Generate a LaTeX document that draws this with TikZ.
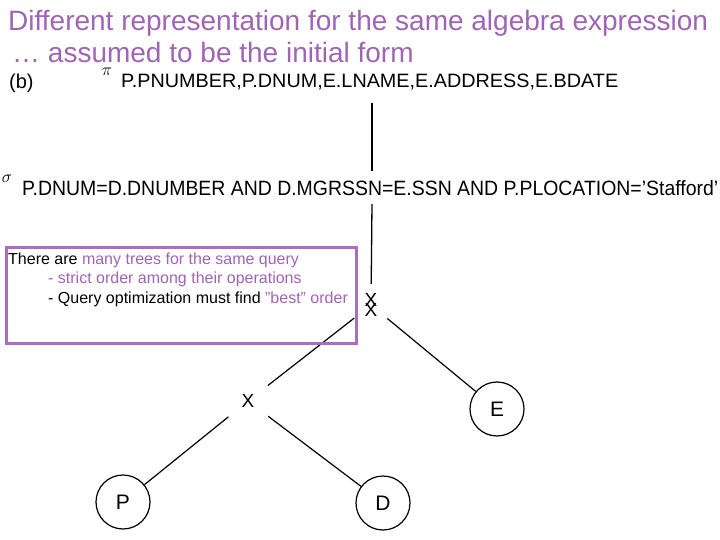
\documentclass[tikz,border=0pt]{standalone}
\usepackage{fontspec}
\setmainfont{Liberation Sans}
\usepackage{graphicx}
\definecolor{ttl}{RGB}{160,100,180}
\definecolor{boxc}{RGB}{170,110,190}
\tikzset{
  titletext/.style={anchor=base west, inner sep=0, text=ttl, font=\fontsize{28}{32}\selectfont},
  treetext/.style={anchor=base west, inner sep=0, font=\fontsize{18}{20}\selectfont},
  optext/.style={inner sep=0, font=\fontsize{18}{20}\selectfont},
  xnode/.style={circle, inner sep=0, font=\fontsize{19}{19}\selectfont},
  leaf/.style={circle, draw, line width=1.2pt, minimum size=54pt, inner sep=0, font=\fontsize{21}{21}\selectfont},
  edge/.style={line width=1.2pt},
  boxtext/.style={anchor=base west, inner sep=0, font=\fontsize{16}{18}\selectfont}
}
\begin{document}
\begin{tikzpicture}[x=1pt,y=-1pt]
\useasboundingbox (0,0) rectangle (720,540);
% title
\node[titletext] (t1) at (8,31) {Different representation for the same algebra expression};
\node[titletext] (t2) at (12,63) {\ldots\ assumed to be the initial form};
% (b) and projection
\node[treetext, font=\fontsize{20}{22}\selectfont] (lb) at (9,89) {(b)};
\node[optext, anchor=base] (pi) at (107,76) {$\pi$};
\node[treetext] (proj) at (121,88) {\resizebox{497pt}{13.5pt}{P.PNUMBER,P.DNUM,E.LNAME,E.ADDRESS,E.BDATE}};
% selection
\node[optext, anchor=base] (sig) at (7,183) {$\sigma$};
\node[treetext] (sel) at (22,196) {\resizebox{696pt}{15pt}{P.DNUM=D.DNUMBER AND D.MGRSSN=E.SSN AND P.PLOCATION='Stafford'}};
% tree nodes
\node[xnode, minimum size=42pt] (xtop) at (371,305) {\raisebox{5pt}{X}\llap{\raisebox{-5pt}{X}}};
\node[xnode, minimum size=50pt] (xlow) at (248,401) {X};
\node[leaf] (E) at (497,409) {E};
\node[leaf] (P) at (123,502) {P};
\node[leaf] (D) at (383,503) {D};
% vertical line
\coordinate (v1) at (372,103);
\coordinate (v2) at (372,171);
\coordinate (v3) at (372,204);
\draw[line width=1.3pt] (v1) -- (v2);
\draw[line width=1.3pt] (v3) -- (xtop);
\draw[edge] (xtop) -- (xlow);
\draw[edge] (xtop) -- (E);
\draw[edge] (xlow) -- (P);
\draw[edge] (xlow) -- (D);
% comment box
\node[draw=boxc, line width=2.5pt, minimum width=350pt, minimum height=96pt, inner sep=0, anchor=north west] (box) at (5,246) {};
\node[boxtext] (b1) at (8,264) {There are \textcolor{ttl}{many trees for the same query}};
\node[boxtext, text=ttl] (b2) at (48,283) {- strict order among their operations};
\node[boxtext] (b3) at (48,303) {- Query optimization must find \textcolor{ttl}{"best" order}};
\end{tikzpicture}
\end{document}
